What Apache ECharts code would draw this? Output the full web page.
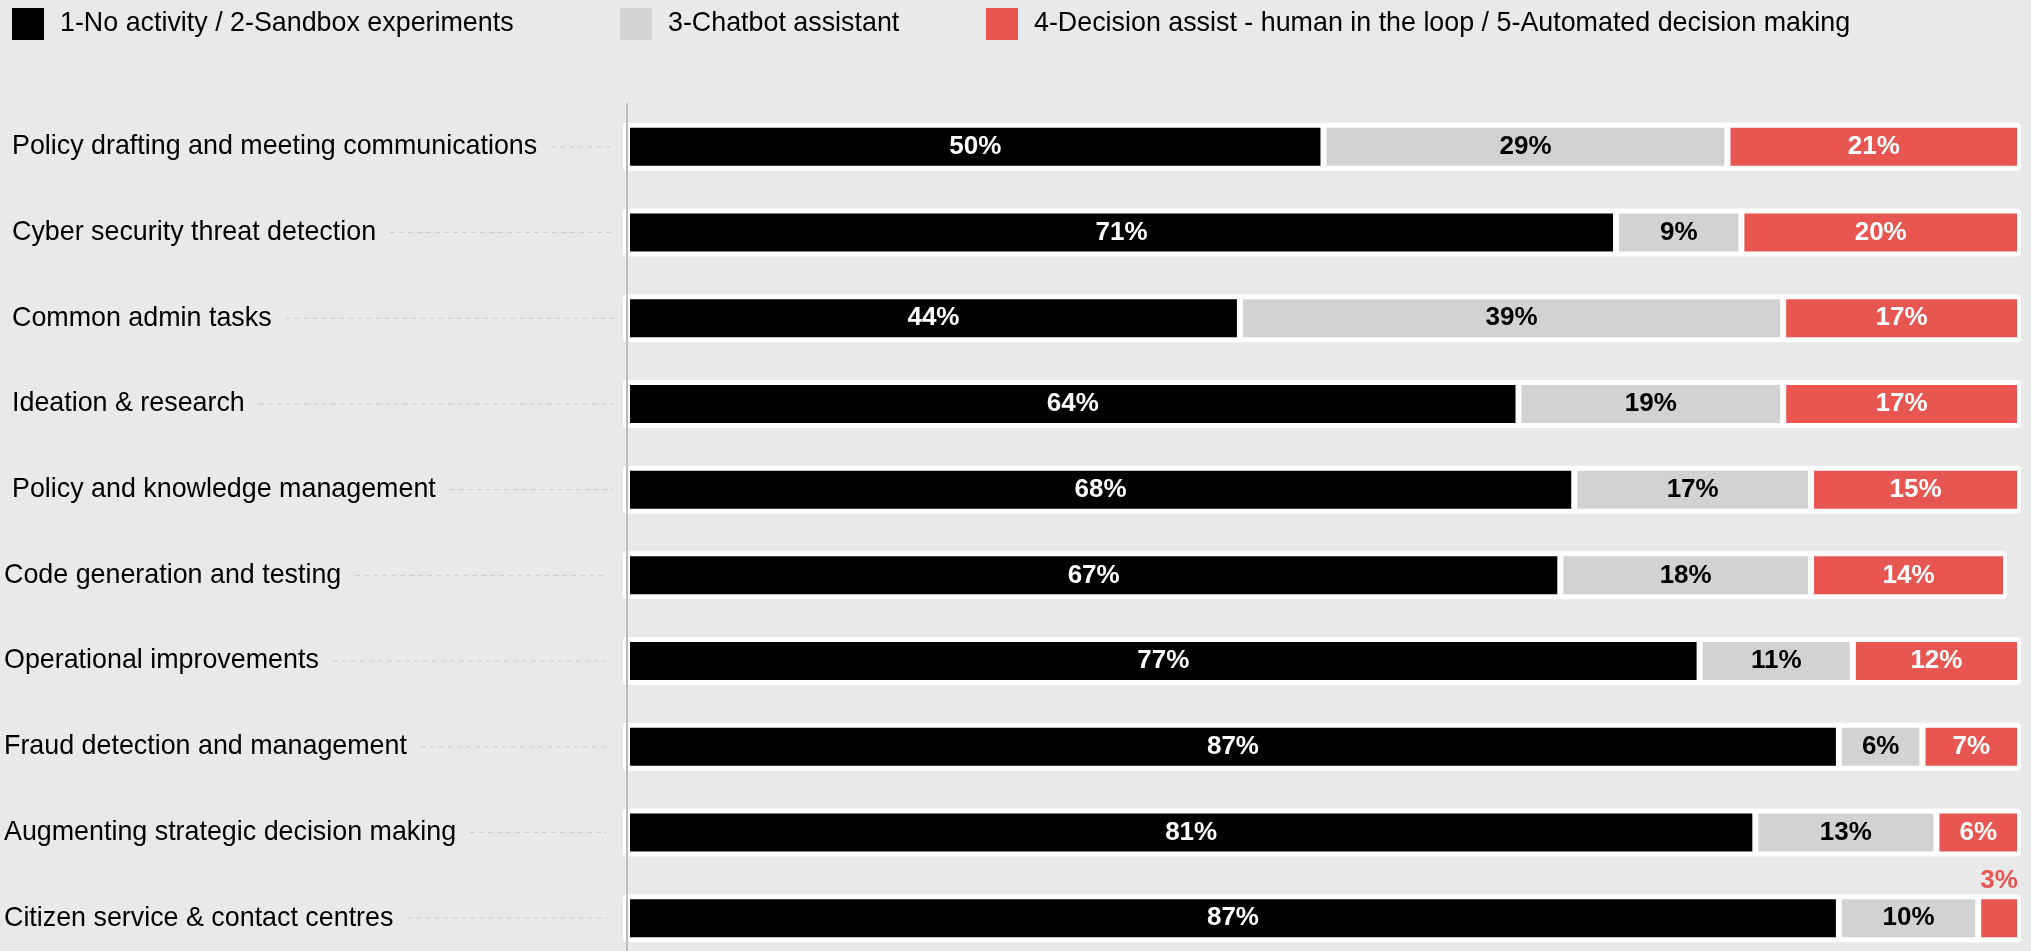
<!DOCTYPE html>
<html>
<head>
<meta charset="utf-8">
<script src="https://cdn.jsdelivr.net/npm/echarts@6/dist/echarts.min.js"></script>
<style>
  html, body { margin: 0; padding: 0; background: #e9e9e9; overflow: hidden; }
  #chart { width: 2031px; height: 975px; }
</style>
</head>
<body>
<div id="chart"></div>
<script>
// Use of AI across government activities, share of respondents by maturity level
const categories = [
  'Policy drafting and meeting communications',
  'Cyber security threat detection',
  'Common admin tasks',
  'Ideation & research',
  'Policy and knowledge management',
  'Code generation and testing',
  'Operational improvements',
  'Fraud detection and management',
  'Augmenting strategic decision making',
  'Citizen service & contact centres'
];
const seriesNames = [
  '1-No activity / 2-Sandbox experiments',
  '3-Chatbot assistant',
  '4-Decision assist - human in the loop / 5-Automated decision making'
];
const noActivity = [50, 71, 44, 64, 68, 67, 77, 87, 81, 87];
const chatbot    = [29,  9, 39, 19, 17, 18, 11,  6, 13, 10];
const decision   = [21, 20, 17, 17, 15, 14, 12,  7,  6,  3];

const FONT = '"Liberation Sans", Arial, Helvetica, sans-serif';
const FONT_SIZE = 26.85;
const COLORS = ['#000000', '#d2d2d2', '#e85651'];
const LABEL_COLORS = ['#ffffff', '#000000', '#ffffff'];

// label start positions: first block of rows sits slightly further right
const LABEL_LEFT = (i) => (i < 5 ? 12 : 4);
const LEADER_END_GAP = (i) => (i < 5 ? 13 : 20);

// measure category label widths to place the dotted leaders after the text
const measureCtx = document.createElement('canvas').getContext('2d');
measureCtx.font = FONT_SIZE + 'px ' + FONT;
const labelWidths = categories.map(c => measureCtx.measureText(c).width);

const totals = categories.map((_, i) => noActivity[i] + chatbot[i] + decision[i]);

const chart = echarts.init(document.getElementById('chart'), null, { renderer: 'canvas' });

function segmentData(values, k) {
  return values.map(v => {
    if (k === 2 && v < 5) {
      return {
        value: v,
        label: { position: 'top', distance: 2, color: COLORS[2] }
      };
    }
    return v;
  });
}

const barSeries = [noActivity, chatbot, decision].map((vals, k) => ({
  name: seriesNames[k],
  type: 'bar',
  stack: 'share',
  barWidth: 44,
  data: segmentData(vals, k),
  itemStyle: { color: COLORS[k], borderColor: '#ffffff', borderWidth: 3 },
  label: {
    show: true,
    position: 'inside',
    formatter: '{c}%',
    color: LABEL_COLORS[k],
    fontFamily: FONT,
    fontWeight: 'bold',
    fontSize: 26
  },
  z: 3
}));

const legendBase = {
  padding: 0,
  top: 8,
  icon: 'rect',
  itemWidth: 32,
  itemHeight: 32,
  selectedMode: false,
  itemStyle: { borderWidth: 0 },
  textStyle: { fontFamily: FONT, fontSize: FONT_SIZE, color: '#000', padding: [0, 0, 0, 11] }
};

const option = {
  backgroundColor: '#e9e9e9',
  animation: false,
  legend: [
    Object.assign({}, legendBase, { left: 12, data: [seriesNames[0]] }),
    Object.assign({}, legendBase, { left: 620, data: [seriesNames[1]] }),
    Object.assign({}, legendBase, { left: 986, data: [seriesNames[2]] })
  ],
  grid: { left: 627, right: 11, top: 104, height: 857, containLabel: false },
  xAxis: { type: 'value', min: 0, max: 100, show: false, splitLine: { show: false } },
  yAxis: {
    type: 'category',
    data: categories,
    inverse: true,
    z: 10,
    axisTick: { show: false },
    axisLine: { show: true, lineStyle: { color: '#bcbcbc', width: 2 } },
    axisLabel: {
      align: 'left',
      margin: 623,
      formatter: (v, i) => (i < 5 ? '{a|' + v + '}' : '{b|' + v + '}'),
      rich: {
        a: { fontFamily: FONT, fontSize: FONT_SIZE, color: '#000', padding: [0, 0, 0, 8] },
        b: { fontFamily: FONT, fontSize: FONT_SIZE, color: '#000' }
      }
    }
  },
  series: [
    {
      // white rounded plate behind each stacked bar
      type: 'custom',
      silent: true,
      clip: false,
      z: 1,
      encode: { x: 0, y: 1 },
      data: totals.map((t, i) => [t, i]),
      renderItem: (params, api) => {
        const p0 = api.coord([0, api.value(1)]);
        const p1 = api.coord([api.value(0), api.value(1)]);
        return {
          type: 'rect',
          shape: { x: p0[0] - 4, y: p0[1] - 24, width: p1[0] - p0[0] + 5, height: 48, r: 4 },
          style: { fill: '#ffffff' }
        };
      }
    },
    {
      // dotted leaders from each category label to the axis
      type: 'custom',
      silent: true,
      clip: false,
      z: 1,
      encode: { x: 0, y: 1 },
      data: categories.map((_, i) => [0, i]),
      renderItem: (params, api) => {
        const i = api.value(1);
        const p0 = api.coord([0, i]);
        const xs = LABEL_LEFT(i) + labelWidths[i] + 14;
        const xe = p0[0] - LEADER_END_GAP(i);
        return {
          type: 'line',
          shape: { x1: xs, y1: p0[1], x2: xe, y2: p0[1] },
          style: { stroke: '#c9c9c9', lineWidth: 1, lineDash: [5, 4] }
        };
      }
    }
  ].concat(barSeries)
};

chart.setOption(option);
</script>
</body>
</html>
